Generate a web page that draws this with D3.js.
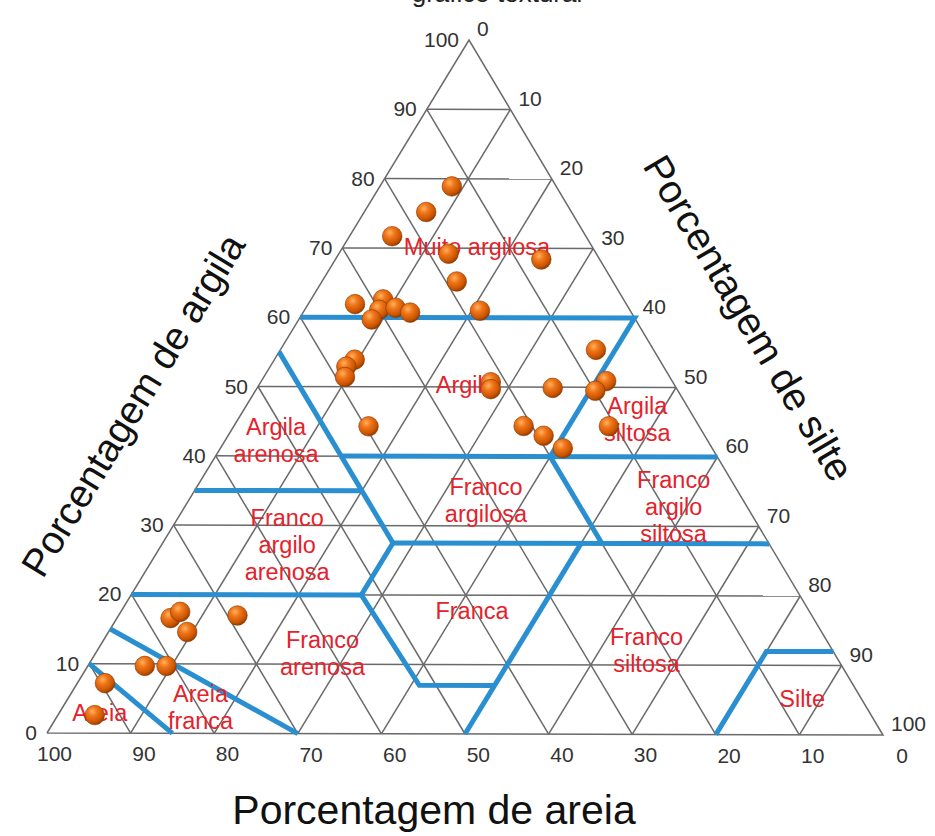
<!DOCTYPE html>
<html>
<head>
<meta charset="utf-8">
<script src="https://cdn.jsdelivr.net/npm/d3@7"></script>
<style>
  html, body { margin: 0; padding: 0; background: #fff; }
  svg { display: block; font-family: Arial, "Liberation Sans", Helvetica, sans-serif; }
</style>
</head>
<body>
<svg id="chart" width="935" height="836"></svg>
<script>
// Soil samples: clay, sand and silt percentages
const clay = [78.9, 75.2, 71.7, 69.2, 68.4, 65.2, 61.9, 62.6, 61.1, 61.4, 59.7, 60.7, 61.0,
              55.4, 50.7, 49.7, 49.9, 50.9, 49.5, 44.4, 43.0, 41.2, 44.4, 44.3,
              53.9, 52.9, 51.4, 16.6, 17.5, 14.6, 17.0, 9.7, 9.7, 7.2, 2.6];
const sand = [12.5, 17.4, 23.2, 17.7, 7.0, 18.7, 32.5, 28.8, 30.0, 27.9, 31.6, 26.5, 18.0,
              6.9, 21.8, 22.3, 14.8, 7.9, 9.9, 21.0, 19.3, 17.9, 10.8, 39.6,
              36.5, 38.0, 38.9, 77.0, 75.4, 76.0, 68.8, 83.5, 80.9, 89.5, 93.0];
const silt = clay.map((c, i) => +(100 - c - sand[i]).toFixed(1));

// Tick values shared by the three axes
const ticks = [0, 10, 20, 30, 40, 50, 60, 70, 80, 90, 100];
const gridLevels = [10, 20, 30, 40, 50, 60, 70, 80, 90];

// Texture class boundaries, as [sand, clay] vertices
const boundaries = [
  [[40, 60], [0, 60], [20, 40]],
  [[45, 40], [0, 40]],
  [[45, 55], [45, 27.5]],
  [[65, 35], [45, 35]],
  [[45, 27.5], [0, 27.5]],
  [[20, 40], [20, 27.5]],
  [[22.5, 27.5], [50, 0]],
  [[80, 20], [52.5, 20]],
  [[45, 27.5], [52.5, 20], [52, 7], [43, 7]],
  [[85, 15], [70, 0]],
  [[90, 10], [85, 0]],
  [[20, 0], [8, 12], [0, 12]]
];

// Texture class names, placed by composition [sand, clay]
const classNames = ["Muito argilosa", "Argila", "Argila\nsiltosa", "Argila\narenosa",
  "Franco\nargilosa", "Franco\nargilo\nsiltosa", "Franco\nargilo\narenosa", "Franca",
  "Franco\narenosa", "Franco\nsiltosa", "Areia\nfranca", "Areia", "Silte"];
const classSand = [13.8, 25.0, 6.9, 51.7, 30.8, 8.8, 57.8, 40.4, 61.3, 22.3, 79.8, 92.2, 7.1];
const classClay = [70.2, 50.3, 45.4, 42.2, 33.7, 32.8, 27.2, 17.7, 11.6, 12.1, 3.7, 3.0, 5.2];

const svg = d3.select("#chart");

// Vertex positions of the triangle (sand, clay, silt corners)
const vSand = [47, 733], vClay = [469, 40], vSilt = [883, 735];
const fx = d3.scaleLinear().domain([0, 100]).range([0, 1]);
function pos(s, c) {
  const a = fx(s), b = fx(c), t = 1 - a - b;
  return [a * vSand[0] + b * vClay[0] + t * vSilt[0],
          a * vSand[1] + b * vClay[1] + t * vSilt[1]];
}
const line = d3.line().x(d => pos(d[0], d[1])[0]).y(d => pos(d[0], d[1])[1]);

// Heading running off the top edge
svg.append("text")
  .attr("x", 497).attr("y", 2)
  .attr("text-anchor", "middle")
  .attr("font-size", 26).attr("fill", "#222")
  .text("gráfico textural");

// Grid: constant clay, sand and silt lines every 10%
const grid = svg.append("g").attr("stroke", "#6a6a6a").attr("stroke-width", 1.5).attr("fill", "none");
gridLevels.forEach(k => {
  grid.append("path").attr("d", line([[100 - k, k], [0, k]]));          // clay = k
  grid.append("path").attr("d", line([[k, 0], [k, 100 - k]]));          // sand = k
  grid.append("path").attr("d", line([[100 - k, 0], [0, 100 - k]]));    // silt = k
});
grid.append("path").attr("d", line([[100, 0], [0, 100], [0, 0], [100, 0]])).attr("stroke-linejoin", "miter");

// Class boundaries
svg.append("g").selectAll("path").data(boundaries).join("path")
  .attr("d", line)
  .attr("fill", "none").attr("stroke", "#2a8fd0")
  .attr("stroke-width", 5).attr("stroke-linejoin", "miter");

// Class names
const lab = svg.append("g").attr("fill", "#e5222b").attr("font-size", 23.5).attr("text-anchor", "middle");
classNames.forEach((name, i) => {
  const [x, y] = pos(classSand[i], classClay[i]);
  const lines = name.split("\n");
  const t = lab.append("text").attr("x", x).attr("y", y);
  lines.forEach((l, j) => {
    t.append("tspan").attr("x", x)
      .attr("y", y + (j - (lines.length - 1) / 2) * 27)
      .attr("dy", "0.35em").text(l);
  });
});

// Axis tick labels
const tk = svg.append("g").attr("font-size", 21).attr("fill", "#333");
ticks.forEach(k => {
  const [cx, cy] = pos(100 - k, k);           // clay on left side
  tk.append("text").attr("x", cx - 10).attr("y", cy + 7).attr("text-anchor", "end").text(k);
  const [sx, sy] = pos(0, 100 - k);           // silt on right side
  tk.append("text").attr("x", sx + 8).attr("y", sy - 4).attr("text-anchor", "start").text(k);
  const [bx, by] = pos(k, 0);                 // sand along the base
  tk.append("text").attr("x", bx + 25).attr("y", by + 28).attr("text-anchor", "end").text(k);
});

// Axis titles
svg.append("text").attr("transform", "translate(133,405) rotate(-58.7)")
  .attr("text-anchor", "middle").attr("dy", "0.35em")
  .attr("font-size", 39).attr("fill", "#111").text("Porcentagem de argila");
svg.append("text").attr("transform", "translate(749,318) rotate(59.2)")
  .attr("text-anchor", "middle").attr("dy", "0.35em")
  .attr("font-size", 39.5).attr("fill", "#111").text("Porcentagem de silte");
svg.append("text").attr("x", 434).attr("y", 824)
  .attr("text-anchor", "middle")
  .attr("font-size", 41).attr("fill", "#111").text("Porcentagem de areia");

// Sample points as shaded spheres
const defs = svg.append("defs");
const grad = defs.append("radialGradient").attr("id", "ball")
  .attr("cx", "38%").attr("cy", "32%").attr("r", "70%");
grad.append("stop").attr("offset", "0%").attr("stop-color", "#ffb25e");
grad.append("stop").attr("offset", "35%").attr("stop-color", "#f0761a");
grad.append("stop").attr("offset", "80%").attr("stop-color", "#c85300");
grad.append("stop").attr("offset", "100%").attr("stop-color", "#8f3a00");

const samples = clay.map((c, i) => ({ clay: c, sand: sand[i], silt: silt[i] }));
svg.append("g").selectAll("circle").data(samples).join("circle")
  .attr("cx", d => pos(d.sand, d.clay)[0])
  .attr("cy", d => pos(d.sand, d.clay)[1])
  .attr("r", 9.8)
  .attr("fill", "url(#ball)")
  .attr("stroke", "#8a3600").attr("stroke-width", 0.6);
</script>
</body>
</html>
